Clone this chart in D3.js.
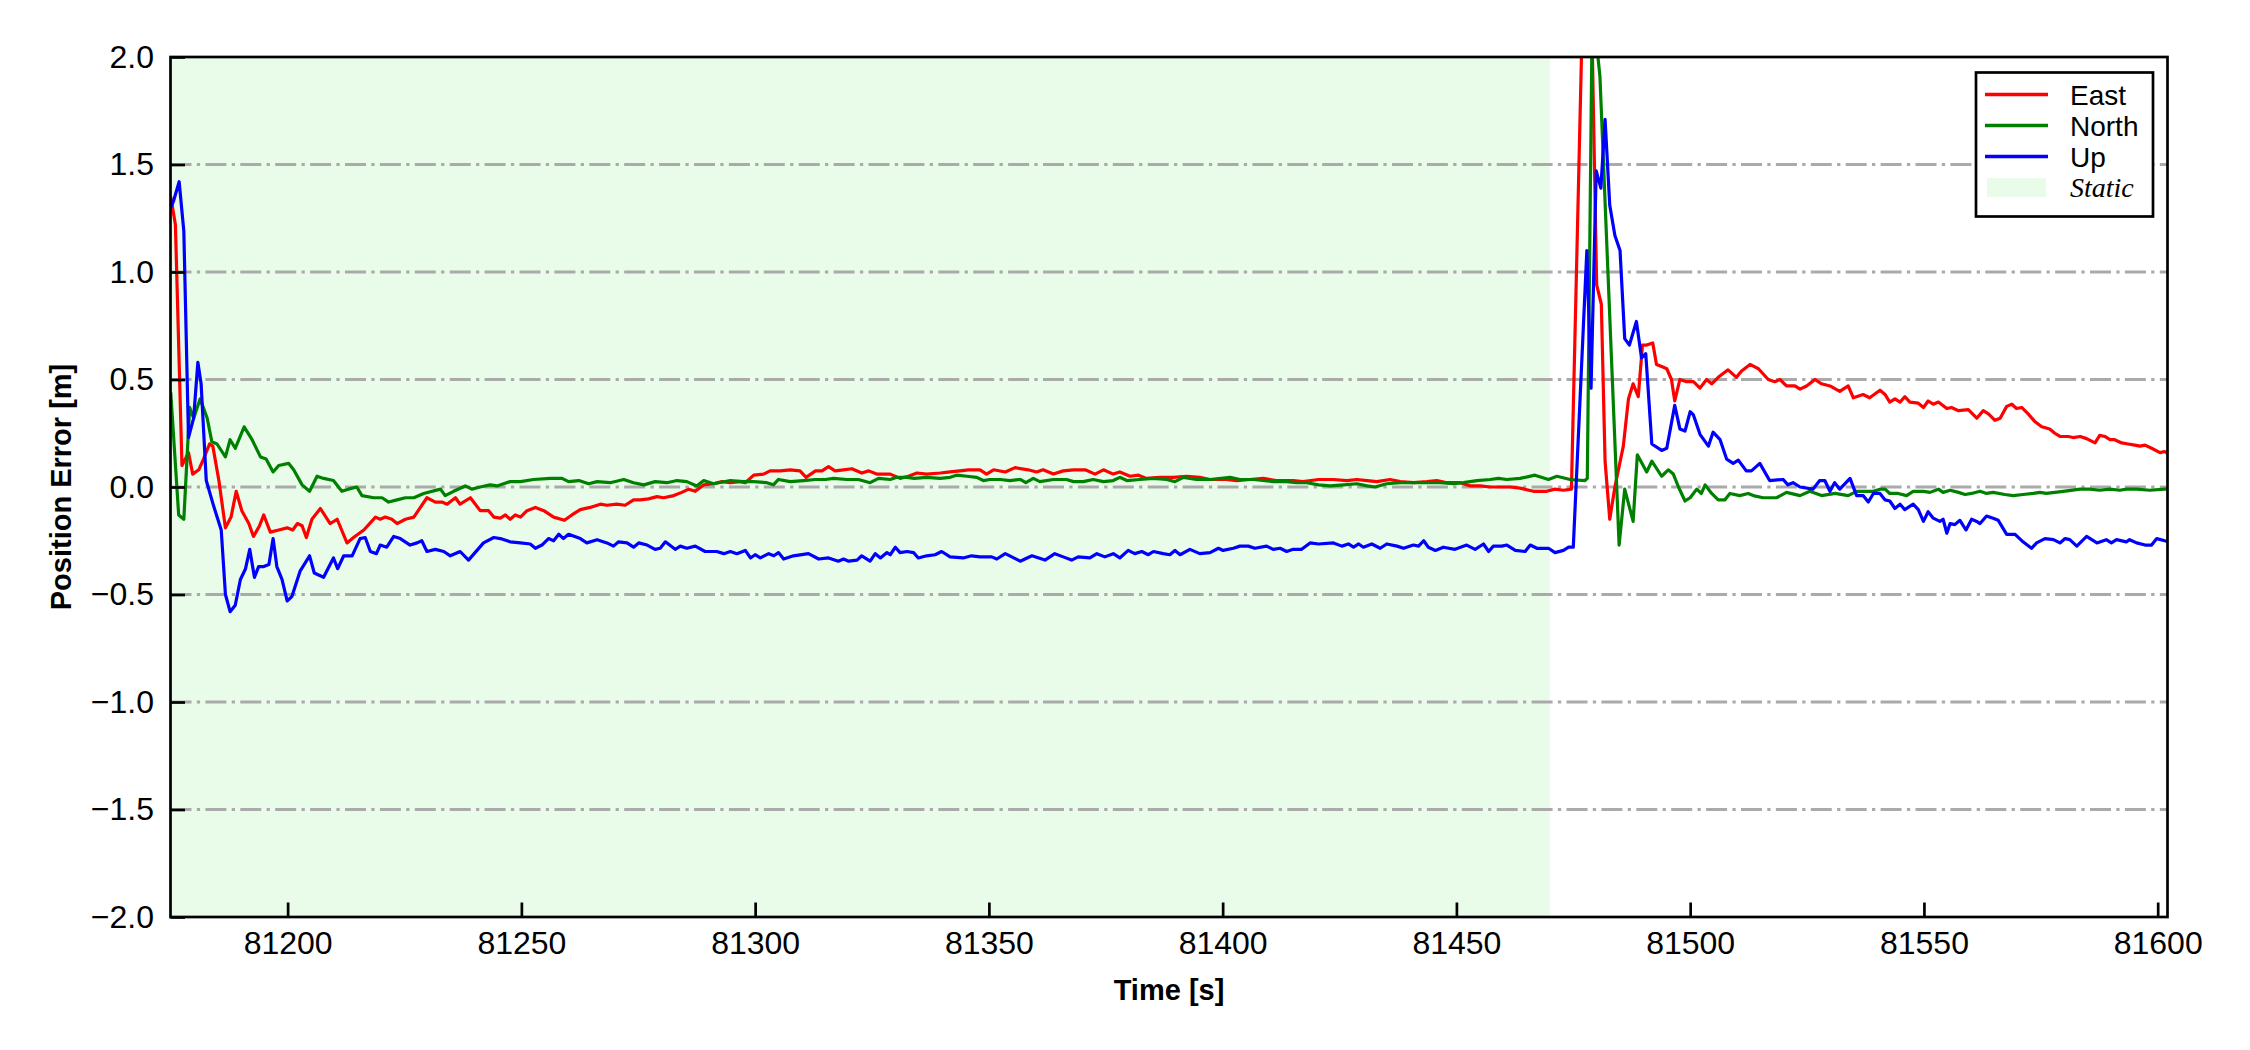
<!DOCTYPE html>
<html><head><meta charset="utf-8">
<script src="https://cdn.jsdelivr.net/npm/d3@7"></script>
<style>
body{margin:0;background:#fff}
svg{display:block}
text{font-family:"Liberation Sans",Arial,Helvetica,sans-serif;fill:#000}
</style>
</head><body>
<svg id="chart" width="2250" height="1050"></svg>
<script>
// ---------------- data (time [s], error [m]) ----------------
const eastData = [
[81175.0,1.35],[81176.0,1.22],[81177.4,0.10],[81178.8,0.16],[81179.7,0.06],[81181.0,0.08],[81182.0,0.13],[81183.3,0.20],[81184.0,0.19],[81185.3,0.03],
[81186.7,-0.19],[81187.9,-0.14],[81189.0,-0.02],[81190.2,-0.11],[81191.7,-0.17],[81192.7,-0.23],[81194.0,-0.18],[81194.9,-0.13],[81196.3,-0.21],[81198.1,-0.20],
[81199.9,-0.19],[81201.1,-0.20],[81202.1,-0.17],[81203.1,-0.18],[81204.0,-0.235],[81205.2,-0.15],[81207.0,-0.10],[81209.1,-0.17],[81210.6,-0.15],[81212.7,-0.26],
[81214.1,-0.235],[81216.3,-0.20],[81218.8,-0.14],[81219.8,-0.15],[81220.9,-0.14],[81222.3,-0.15],[81223.4,-0.17],[81225.2,-0.15],[81227.0,-0.14],[81229.8,-0.05],
[81231.6,-0.07],[81233.0,-0.07],[81234.1,-0.08],[81235.9,-0.05],[81236.9,-0.08],[81239.1,-0.05],[81241.2,-0.11],[81243.0,-0.11],[81244.1,-0.14],[81245.5,-0.145],
[81246.6,-0.13],[81247.6,-0.15],[81248.7,-0.13],[81249.8,-0.14],[81251.2,-0.11],[81253.0,-0.095],[81254.8,-0.11],[81256.9,-0.14],[81259.2,-0.155],[81260.8,-0.13],
[81262.6,-0.105],[81264.7,-0.095],[81266.9,-0.08],[81268.3,-0.085],[81270.4,-0.08],[81272.2,-0.085],[81274.0,-0.06],[81275.4,-0.06],[81277.2,-0.055],[81279.0,-0.045],
[81280.4,-0.05],[81282.6,-0.04],[81284.3,-0.025],[81285.8,-0.01],[81287.2,-0.02],[81289.0,0.01],[81291.1,0.015],[81292.9,0.025],[81294.7,0.02],[81296.8,0.025],
[81297.9,0.02],[81299.7,0.055],[81301.8,0.06],[81303.2,0.075],[81305.4,0.075],[81307.5,0.08],[81309.6,0.075],[81310.9,0.045],[81312.9,0.075],[81314.3,0.075],
[81315.7,0.095],[81317.1,0.075],[81318.9,0.08],[81320.7,0.085],[81322.8,0.065],[81324.3,0.075],[81326.0,0.06],[81328.9,0.06],[81331.0,0.04],[81332.8,0.05],
[81334.6,0.065],[81336.7,0.06],[81339.6,0.065],[81341.7,0.07],[81343.8,0.075],[81345.6,0.08],[81348.1,0.08],[81349.5,0.06],[81351.0,0.08],[81353.5,0.07],
[81355.6,0.09],[81358.4,0.08],[81360.2,0.07],[81361.6,0.08],[81363.8,0.06],[81365.9,0.075],[81368.1,0.08],[81370.6,0.08],[81372.7,0.06],[81374.5,0.08],
[81376.6,0.06],[81378.0,0.07],[81380.2,0.05],[81382.0,0.055],[81383.7,0.04],[81386.6,0.045],[81389.4,0.045],[81392.3,0.05],[81395.1,0.045],[81397.3,0.035],
[81400.8,0.035],[81403.0,0.03],[81405.8,0.035],[81408.7,0.04],[81411.5,0.03],[81415.1,0.03],[81417.2,0.025],[81420.5,0.035],[81423.7,0.035],[81426.6,0.03],
[81428.7,0.035],[81430.9,0.03],[81433.0,0.025],[81435.8,0.035],[81438.0,0.025],[81440.8,0.02],[81443.7,0.025],[81445.8,0.03],[81448.0,0.02],[81450.8,0.02],
[81453.0,0.005],[81455.1,0.005],[81457.2,0.0],[81459.4,0.0],[81461.5,0.0],[81463.6,-0.005],[81466.5,-0.02],[81469.3,-0.02],[81471.1,-0.01],[81472.9,-0.015],
[81474.6,-0.01],[81476.8,2.05],[81477.8,2.8],[81478.6,2.6],[81479.1,2.0],[81480.0,0.94],[81481.0,0.85],[81481.8,0.12],[81482.8,-0.15],[81483.9,0.0],
[81485.7,0.19],[81486.8,0.41],[81487.8,0.48],[81488.9,0.42],[81489.8,0.66],[81490.7,0.66],[81492.0,0.67],[81492.8,0.57],[81493.9,0.56],[81495.0,0.55],
[81496.0,0.50],[81496.7,0.40],[81497.8,0.50],[81499.2,0.49],[81500.7,0.49],[81502.1,0.46],[81503.5,0.50],[81504.6,0.48],[81506.0,0.51],[81508.1,0.545],
[81509.9,0.51],[81511.0,0.54],[81512.8,0.57],[81514.6,0.55],[81516.7,0.50],[81518.1,0.49],[81519.2,0.50],[81520.6,0.47],[81522.4,0.47],[81523.5,0.455],
[81524.9,0.47],[81526.7,0.50],[81528.1,0.48],[81529.9,0.47],[81532.0,0.445],[81533.8,0.47],[81534.9,0.415],[81537.0,0.43],[81538.4,0.415],[81540.6,0.45],
[81541.7,0.43],[81542.7,0.395],[81543.8,0.41],[81544.9,0.395],[81545.9,0.42],[81547.0,0.395],[81548.8,0.39],[81549.9,0.37],[81550.9,0.40],[81552.0,0.385],
[81553.1,0.395],[81554.9,0.365],[81555.9,0.37],[81557.4,0.355],[81559.5,0.36],[81561.3,0.32],[81562.7,0.355],[81563.8,0.34],[81565.2,0.31],[81566.3,0.32],
[81567.7,0.375],[81568.8,0.385],[81569.8,0.365],[81570.9,0.37],[81572.3,0.34],[81573.7,0.305],[81575.2,0.28],[81576.9,0.27],[81578.0,0.25],[81579.1,0.235],
[81580.9,0.235],[81581.9,0.23],[81583.4,0.235],[81584.8,0.225],[81586.6,0.205],[81587.6,0.24],[81588.7,0.235],[81589.8,0.22],[81590.8,0.22],[81592.3,0.205],
[81593.7,0.20],[81595.1,0.195],[81596.2,0.19],[81597.3,0.195],[81598.7,0.18],[81600.5,0.16],[81601.5,0.165],[81602.5,0.15]
];
const northData = [
[81175.0,0.44],[81176.7,-0.13],[81177.8,-0.15],[81179.05,0.37],[81179.9,0.32],[81181.3,0.41],[81182.8,0.32],[81183.8,0.21],[81184.9,0.20],[81186.7,0.14],
[81187.7,0.22],[81188.8,0.18],[81190.7,0.28],[81192.4,0.22],[81194.2,0.14],[81195.4,0.13],[81196.9,0.07],[81198.1,0.10],[81200.2,0.11],[81201.3,0.08],
[81203.1,0.01],[81204.7,-0.02],[81206.3,0.05],[81207.7,0.04],[81209.8,0.03],[81211.6,-0.02],[81213.0,-0.01],[81214.8,0.0],[81215.9,-0.04],[81218.4,-0.05],
[81220.2,-0.05],[81221.6,-0.07],[81223.4,-0.06],[81225.2,-0.05],[81227.0,-0.05],[81229.1,-0.03],[81232.7,-0.01],[81233.7,-0.04],[81235.5,-0.02],[81238.0,0.005],
[81239.4,-0.01],[81241.2,0.0],[81243.3,0.01],[81244.8,0.005],[81247.6,0.025],[81249.8,0.025],[81252.6,0.035],[81256.2,0.04],[81258.7,0.04],[81260.1,0.025],
[81262.3,0.03],[81264.4,0.015],[81266.2,0.025],[81269.0,0.02],[81271.9,0.035],[81274.0,0.02],[81276.2,0.01],[81278.6,0.025],[81281.1,0.02],[81283.3,0.03],
[81285.4,0.025],[81287.5,0.005],[81289.0,0.03],[81291.1,0.015],[81294.7,0.03],[81297.5,0.025],[81299.7,0.025],[81302.5,0.02],[81303.9,0.01],[81305.0,0.035],
[81307.5,0.025],[81310.4,0.03],[81312.9,0.035],[81315.0,0.035],[81316.8,0.04],[81319.6,0.035],[81322.1,0.035],[81324.6,0.02],[81326.4,0.04],[81328.9,0.035],
[81330.3,0.045],[81332.5,0.045],[81334.0,0.04],[81336.7,0.045],[81339.6,0.04],[81341.7,0.045],[81343.1,0.055],[81345.3,0.05],[81347.4,0.045],[81348.8,0.03],
[81350.2,0.035],[81352.4,0.035],[81354.5,0.03],[81356.7,0.035],[81357.9,0.02],[81359.5,0.04],[81360.9,0.025],[81363.8,0.035],[81366.6,0.035],[81368.1,0.025],
[81370.2,0.025],[81372.3,0.035],[81374.5,0.025],[81376.6,0.03],[81378.0,0.045],[81379.5,0.03],[81382.3,0.035],[81385.2,0.04],[81388.0,0.035],[81389.8,0.025],
[81391.6,0.045],[81394.4,0.035],[81397.3,0.035],[81401.6,0.045],[81403.7,0.035],[81406.6,0.035],[81410.8,0.025],[81413.7,0.025],[81415.8,0.02],[81418.0,0.02],
[81420.5,0.01],[81423.0,0.005],[81425.9,0.01],[81428.7,0.015],[81430.9,0.005],[81432.6,0.0],[81435.1,0.015],[81438.0,0.02],[81440.8,0.02],[81443.7,0.02],
[81446.5,0.02],[81449.4,0.015],[81451.5,0.02],[81454.4,0.03],[81457.2,0.035],[81459.0,0.04],[81460.8,0.035],[81463.6,0.04],[81466.8,0.055],[81469.7,0.035],
[81471.5,0.05],[81474.3,0.035],[81477.5,0.03],[81478.0,0.04],[81479.0,2.1],[81479.8,2.1],[81480.7,1.91],[81484.8,-0.27],[81486.0,-0.01],[81487.8,-0.16],
[81488.7,0.15],[81490.7,0.07],[81491.8,0.12],[81493.9,0.05],[81495.3,0.08],[81496.4,0.06],[81497.5,0.0],[81498.9,-0.065],[81500.0,-0.05],[81501.4,-0.01],
[81502.4,-0.03],[81503.2,0.01],[81504.6,-0.03],[81506.0,-0.06],[81507.4,-0.06],[81508.5,-0.03],[81510.6,-0.04],[81512.4,-0.03],[81513.5,-0.04],[81515.6,-0.05],
[81518.5,-0.05],[81520.6,-0.025],[81523.5,-0.04],[81525.6,-0.02],[81528.1,-0.04],[81531.0,-0.03],[81533.8,-0.04],[81535.6,-0.02],[81539.2,-0.02],[81540.6,-0.01],
[81541.7,-0.01],[81542.7,-0.03],[81544.5,-0.03],[81546.3,-0.04],[81547.7,-0.02],[81549.9,-0.02],[81551.3,-0.025],[81553.1,-0.01],[81554.1,-0.025],[81555.6,-0.015],
[81557.4,-0.025],[81558.8,-0.035],[81560.2,-0.03],[81562.0,-0.02],[81563.4,-0.03],[81564.8,-0.025],[81567.3,-0.035],[81569.1,-0.04],[81571.2,-0.035],[81573.4,-0.03],
[81574.8,-0.025],[81576.2,-0.03],[81579.8,-0.02],[81583.4,-0.01],[81585.5,-0.01],[81587.6,-0.015],[81589.8,-0.01],[81591.9,-0.015],[81593.3,-0.01],[81595.5,-0.01],
[81598.3,-0.015],[81601.5,-0.01],[81602.5,-0.01]
];
const upData = [
[81175.0,1.30],[81175.6,1.33],[81176.8,1.42],[81177.8,1.19],[81178.8,0.23],[81179.9,0.32],[81180.8,0.58],[81181.5,0.48],[81182.6,0.03],[81184.2,-0.09],
[81185.8,-0.20],[81186.7,-0.50],[81187.7,-0.58],[81188.8,-0.55],[81189.9,-0.43],[81191.0,-0.38],[81191.9,-0.29],[81192.9,-0.42],[81193.8,-0.37],[81194.9,-0.37],
[81196.0,-0.36],[81196.9,-0.24],[81197.7,-0.37],[81198.8,-0.43],[81199.9,-0.53],[81200.9,-0.51],[81202.7,-0.39],[81204.7,-0.32],[81205.7,-0.40],[81207.7,-0.42],
[81209.8,-0.33],[81210.7,-0.38],[81212.0,-0.32],[81213.8,-0.32],[81215.5,-0.24],[81216.6,-0.235],[81217.7,-0.30],[81219.0,-0.31],[81219.8,-0.27],[81221.2,-0.28],
[81222.7,-0.23],[81224.1,-0.24],[81226.2,-0.27],[81227.7,-0.26],[81228.7,-0.25],[81229.8,-0.30],[81231.6,-0.29],[81233.4,-0.30],[81234.8,-0.32],[81236.9,-0.30],
[81238.7,-0.34],[81241.9,-0.26],[81244.1,-0.235],[81245.5,-0.24],[81247.6,-0.255],[81249.8,-0.26],[81251.9,-0.265],[81253.0,-0.285],[81254.4,-0.27],[81255.8,-0.24],
[81256.9,-0.25],[81258.0,-0.22],[81259.0,-0.24],[81260.1,-0.22],[81262.6,-0.24],[81264.0,-0.26],[81266.2,-0.245],[81268.3,-0.26],[81269.7,-0.275],[81270.8,-0.255],
[81272.6,-0.26],[81274.0,-0.28],[81275.1,-0.26],[81276.9,-0.27],[81278.6,-0.29],[81279.7,-0.285],[81280.8,-0.255],[81282.9,-0.29],[81284.0,-0.275],[81285.4,-0.285],
[81287.2,-0.275],[81289.3,-0.30],[81291.8,-0.30],[81293.3,-0.31],[81294.7,-0.30],[81296.1,-0.31],[81297.9,-0.295],[81299.0,-0.33],[81300.0,-0.315],[81301.1,-0.33],
[81302.9,-0.31],[81304.0,-0.32],[81305.0,-0.305],[81306.1,-0.335],[81308.2,-0.32],[81311.4,-0.31],[81313.6,-0.335],[81315.7,-0.33],[81317.8,-0.345],[81318.9,-0.335],
[81320.0,-0.345],[81321.8,-0.34],[81322.8,-0.32],[81324.6,-0.345],[81325.7,-0.31],[81326.8,-0.33],[81328.2,-0.305],[81328.9,-0.315],[81330.0,-0.28],[81331.0,-0.305],
[81332.5,-0.30],[81333.9,-0.305],[81334.9,-0.33],[81336.7,-0.32],[81338.5,-0.315],[81339.9,-0.30],[81341.7,-0.325],[81344.5,-0.33],[81346.3,-0.32],[81348.1,-0.325],
[81350.6,-0.325],[81351.7,-0.335],[81353.5,-0.31],[81356.7,-0.345],[81359.2,-0.32],[81362.0,-0.34],[81364.1,-0.31],[81365.9,-0.325],[81367.7,-0.34],[81369.1,-0.325],
[81371.6,-0.33],[81373.1,-0.31],[81374.8,-0.325],[81376.6,-0.31],[81378.0,-0.33],[81379.8,-0.295],[81381.2,-0.31],[81382.7,-0.30],[81384.1,-0.315],[81385.2,-0.30],
[81387.3,-0.31],[81388.7,-0.315],[81389.8,-0.295],[81390.9,-0.315],[81393.0,-0.29],[81395.1,-0.31],[81397.3,-0.305],[81399.1,-0.285],[81400.1,-0.295],[81402.3,-0.285],
[81403.7,-0.275],[81405.5,-0.275],[81406.9,-0.285],[81409.4,-0.275],[81410.8,-0.29],[81412.3,-0.285],[81413.7,-0.30],[81415.1,-0.29],[81416.9,-0.29],[81418.7,-0.26],
[81420.5,-0.265],[81423.7,-0.26],[81425.5,-0.275],[81426.9,-0.265],[81428.0,-0.28],[81429.1,-0.265],[81430.1,-0.28],[81431.9,-0.265],[81433.7,-0.285],[81435.1,-0.265],
[81437.3,-0.275],[81438.7,-0.285],[81440.8,-0.27],[81441.9,-0.275],[81443.0,-0.25],[81444.0,-0.28],[81445.5,-0.295],[81447.2,-0.28],[81449.7,-0.29],[81452.2,-0.27],
[81454.0,-0.29],[81455.8,-0.265],[81456.9,-0.30],[81457.9,-0.275],[81459.7,-0.275],[81460.8,-0.27],[81462.6,-0.295],[81464.7,-0.30],[81465.8,-0.27],[81467.2,-0.285],
[81469.7,-0.285],[81471.1,-0.305],[81472.9,-0.295],[81474.0,-0.28],[81475.0,-0.28],[81477.9,1.10],[81478.8,0.46],[81479.9,1.47],[81480.9,1.39],[81481.8,1.71],
[81482.8,1.31],[81483.9,1.17],[81485.0,1.10],[81486.0,0.69],[81487.0,0.66],[81488.5,0.77],[81489.6,0.60],[81490.5,0.62],[81491.8,0.20],[81493.9,0.17],
[81495.0,0.18],[81496.7,0.38],[81497.8,0.27],[81498.9,0.26],[81500.0,0.35],[81500.7,0.335],[81502.1,0.245],[81503.9,0.19],[81504.9,0.255],[81506.4,0.22],
[81507.8,0.13],[81509.2,0.11],[81510.3,0.125],[81512.0,0.075],[81513.1,0.075],[81514.9,0.11],[81517.0,0.03],[81519.9,0.035],[81520.9,0.01],[81522.0,0.02],
[81523.5,0.0],[81526.3,-0.01],[81527.7,0.03],[81528.8,0.03],[81529.9,-0.02],[81530.9,0.02],[81532.0,-0.01],[81534.2,0.04],[81535.6,-0.04],[81537.0,-0.04],
[81538.1,-0.07],[81539.2,-0.03],[81540.6,-0.03],[81541.7,-0.06],[81542.7,-0.065],[81543.8,-0.10],[81544.9,-0.08],[81545.9,-0.105],[81547.7,-0.08],[81548.8,-0.105],
[81549.9,-0.16],[81550.9,-0.115],[81552.0,-0.145],[81553.4,-0.16],[81554.1,-0.15],[81554.9,-0.215],[81555.6,-0.17],[81556.6,-0.175],[81557.7,-0.155],[81559.0,-0.20],
[81560.2,-0.15],[81561.3,-0.16],[81562.0,-0.17],[81563.4,-0.135],[81564.8,-0.145],[81565.9,-0.155],[81567.7,-0.22],[81569.5,-0.22],[81571.2,-0.255],[81573.0,-0.285],
[81574.1,-0.26],[81575.9,-0.24],[81577.7,-0.245],[81579.1,-0.26],[81580.2,-0.24],[81581.2,-0.245],[81582.7,-0.275],[81584.8,-0.23],[81587.0,-0.26],[81589.0,-0.245],
[81590.1,-0.26],[81591.2,-0.245],[81593.3,-0.255],[81594.0,-0.245],[81595.5,-0.26],[81597.3,-0.27],[81598.7,-0.27],[81599.8,-0.24],[81601.5,-0.25],[81602.5,-0.255]
];
const seriesNames = ["East","North","Up"];
const seriesColors = ["#ff0000","#008000","#0000ff"];
const staticLabel = "Static";
const staticSpan = [81175, 81470];
const xTicks = [81200,81250,81300,81350,81400,81450,81500,81550,81600];
const yTicks = [-2.0,-1.5,-1.0,-0.5,0.0,0.5,1.0,1.5,2.0];
const gridLevels = [-1.5,-1.0,-0.5,0.0,0.5,1.0,1.5];
const xTitle = "Time [s]";
const yTitle = "Position Error [m]";

// ---------------- layout ----------------
const L = 170.5, R = 2167.5, T = 57, B = 917;
const svg = d3.select("#chart");
const x = d3.scaleLinear().domain([81174.95, 81602.1]).range([L, R]);
const y = d3.scaleLinear().domain([-2, 2]).range([B, T]);

svg.append("defs").append("clipPath").attr("id","plotclip")
  .append("rect").attr("x",L).attr("y",T).attr("width",R-L).attr("height",B-T);

// static shading
svg.append("rect")
  .attr("x", x(staticSpan[0])).attr("y", T)
  .attr("width", x(staticSpan[1]) - x(staticSpan[0])).attr("height", B - T)
  .attr("fill", "#e9fce9");

// grid
svg.append("g").selectAll("line").data(gridLevels).join("line")
  .attr("x1", L).attr("x2", R)
  .attr("y1", d => y(d)).attr("y2", d => y(d))
  .attr("stroke", "#aaaaaa").attr("stroke-width", 3)
  .attr("stroke-dasharray", "21,5.3,3.3,5.3");

// series
const allData = [eastData, northData, upData];
const line = d3.line().x(d => x(d[0])).y(d => y(d[1]));
svg.append("g").attr("clip-path","url(#plotclip)")
  .selectAll("path").data(allData).join("path")
  .attr("d", d => line(d))
  .attr("fill","none")
  .attr("stroke", (d,i) => seriesColors[i])
  .attr("stroke-width", 3.2)
  .attr("stroke-linejoin","round");

// axes
const fmt = d3.format(".1f");
const xAxis = svg.append("g").attr("transform", `translate(0,${B})`)
  .call(d3.axisBottom(x).tickValues(xTicks).tickFormat(d3.format("d")).tickSize(-14.5).tickSizeOuter(0).tickPadding(14.5));
const yAxis = svg.append("g").attr("transform", `translate(${L},0)`)
  .call(d3.axisLeft(y).tickValues(yTicks).tickFormat(fmt).tickSize(-14.5).tickSizeOuter(0).tickPadding(16.5));
[xAxis, yAxis].forEach(a => {
  a.select(".domain").remove();
  a.selectAll(".tick line").attr("stroke","#000").attr("stroke-width",2.7);
  a.selectAll(".tick text").attr("font-size", 32).attr("font-family", '"Liberation Sans",Arial,sans-serif').attr("fill","#000");
});
xAxis.selectAll(".tick").filter(d => false).remove();

// frame
svg.append("rect").attr("x",L).attr("y",T).attr("width",R-L).attr("height",B-T)
  .attr("fill","none").attr("stroke","#000").attr("stroke-width",2.7);

// axis titles
svg.append("text").attr("x",(L+R)/2).attr("y",1000).attr("text-anchor","middle")
  .attr("font-size",29).attr("font-weight","bold").text(xTitle);
svg.append("text").attr("transform",`translate(70.5,${(T+B)/2}) rotate(-90)`)
  .attr("text-anchor","middle").attr("font-size",29).attr("font-weight","bold").text(yTitle);

// legend
const lg = svg.append("g");
lg.append("rect").attr("x",1976).attr("y",72.5).attr("width",177).attr("height",144)
  .attr("fill","#fff").attr("stroke","#000").attr("stroke-width",2.7);
const rowY = [94.5, 125.5, 156.5, 187.5];
seriesNames.forEach((n,i) => {
  lg.append("line").attr("x1",1985).attr("x2",2048).attr("y1",rowY[i]).attr("y2",rowY[i])
    .attr("stroke",seriesColors[i]).attr("stroke-width",3.4);
  lg.append("text").attr("x",2070).attr("y",rowY[i]+10).attr("font-size",28).text(n);
});
lg.append("rect").attr("x",1987).attr("y",178).attr("width",59).attr("height",19).attr("fill","#e9fce9");
lg.append("text").attr("x",2070).attr("y",rowY[3]+9.5).attr("font-size",28)
  .attr("font-style","italic").style("font-family",'"Liberation Serif","Times New Roman",serif').text(staticLabel);
</script>
</body></html>
